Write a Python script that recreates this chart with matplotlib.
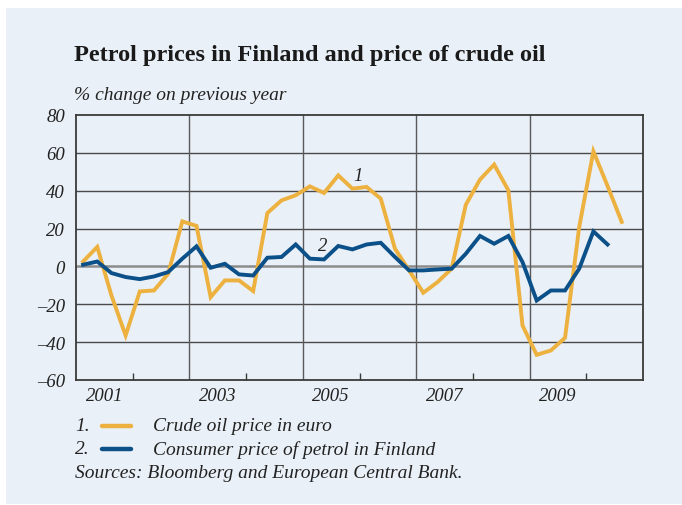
import matplotlib.pyplot as plt
import matplotlib.patches as patches
import numpy as np

# Quarterly data, % change on previous year
start_year = 2001.125
crude_oil = [2.6, 10.3, -15.3, -36.5, -13.2, -12.7, -3.9, 23.8, 21.4, -16.2,
             -7.4, -7.4, -13.0, 28.2, 34.9, 37.6, 42.3, 38.8, 48.1, 41.1,
             42.0, 35.8, 9.4, -2.1, -13.9, -8.3, -1.2, 32.6, 45.9, 53.8,
             40.2, -31.2, -46.7, -44.4, -37.7, 20.8, 60.8, 42.5, 23.5]
petrol = [0.9, 2.6, -3.5, -5.6, -6.7, -5.3, -3.0, 4.1, 10.6, -0.7,
          1.4, -4.2, -4.8, 4.6, 5.0, 11.6, 4.1, 3.7, 10.8, 9.0,
          11.6, 12.5, 5.0, -2.1, -2.1, -1.6, -1.2, 6.7, 16.1, 12.0,
          16.1, 2.3, -18.0, -12.7, -12.7, -1.2, 18.5, 11.6]
year_labels = ["2001", "2003", "2005", "2007", "2009"]
y_ticks = [-60, -40, -20, 0, 20, 40, 60, 80]

t_oil = start_year + 0.25 * np.arange(len(crude_oil))
t_pet = start_year + 0.25 * np.arange(len(petrol))

yellow = "#EDB13F"
blue = "#0B5088"
bg = "#EAF0F7"
grid_c = "#4A4A4A"
serif = ["Liberation Serif", "DejaVu Serif"]
fs = 13.5
fs_note = 14

fig = plt.figure(figsize=(6.82, 5.06), dpi=100)
fig.patch.set_facecolor("white")
fig.patches.append(patches.Rectangle((6 / 682, 1 - 505 / 506), 1, 496 / 506,
                                     transform=fig.transFigure, facecolor=bg,
                                     edgecolor="none", zorder=-10))

ax = fig.add_axes([76 / 682, 1 - 381 / 506, 567 / 682, 265 / 506])
ax.set_facecolor(bg)
ax.set_xlim(2001, 2011)
ax.set_ylim(-60, 80)

# grid
for v in [60, 40, 20, -20, -40]:
    ax.axhline(v, color=grid_c, lw=1.0, zorder=1)
ax.axhline(0, color="#8C8C8C", lw=1.8, zorder=1)
for yr in [2003, 2005, 2007, 2009]:
    ax.axvline(yr, color="#5A5A5A", lw=1.0, zorder=1)

ax.plot(t_oil, crude_oil, color=yellow, lw=2.8, zorder=3, solid_joinstyle="miter")
ax.plot(t_pet, petrol, color=blue, lw=2.8, zorder=4, solid_joinstyle="miter")

ax.text(2005.98, 48, "1", fontsize=fs, style="italic", family=serif,
        color="#222222", ha="center", va="center")
ax.text(2005.35, 11, "2", fontsize=fs, style="italic", family=serif,
        color="#222222", ha="center", va="center")

for s in ax.spines.values():
    s.set_color("#3A3A3A")
    s.set_linewidth(1.3)

ax.set_yticks(y_ticks)
ax.set_yticklabels([str(v).replace("-", "\u2013") for v in y_ticks],
                   fontsize=fs, style="italic", family=serif, color="#222222")
ax.tick_params(axis="y", length=0, pad=8)

ax.set_xticks([2001.5, 2003.5, 2005.5, 2007.5, 2009.5])
ax.set_xticklabels(year_labels, fontsize=fs, style="italic", family=serif,
                   color="#222222")
ax.set_xticks([2002, 2004, 2006, 2008, 2010], minor=True)
ax.tick_params(axis="x", which="major", length=0, pad=5)
ax.tick_params(axis="x", which="minor", direction="in", length=5, width=1,
               color="#3A3A3A")

# titles
fig.text(74 / 682, 1 - 56 / 506, "Petrol prices in Finland and price of crude oil",
         fontsize=17.5, fontweight="bold", family=serif, color="#1A1A1A",
         va="center", ha="left")
fig.text(74 / 682, 1 - 95 / 506, "% change on previous year",
         fontsize=fs_note, style="italic", family=serif, color="#222222",
         va="center", ha="left")

# legend
leg_y = [427, 450]
leg_txt = ["Crude oil price in euro", "Consumer price of petrol in Finland"]
for i, (yy, txt, c) in enumerate(zip(leg_y, leg_txt, [yellow, blue])):
    yf = 1 - yy / 506
    fig.text(75 / 682, yf, f"{i + 1}.", fontsize=fs_note, style="italic",
             family=serif, color="#222222", va="center", ha="left")
    fig.lines.append(plt.Line2D([102 / 682, 131 / 682], [yf, yf], color=c,
                                lw=3.2, solid_capstyle="round",
                                transform=fig.transFigure))
    fig.text(153 / 682, yf, txt, fontsize=fs_note, style="italic",
             family=serif, color="#222222", va="center", ha="left")
fig.text(75 / 682, 1 - 474 / 506, "Sources: Bloomberg and European Central Bank.",
         fontsize=fs_note, style="italic", family=serif, color="#222222",
         va="center", ha="left")

fig.savefig("out.png", dpi=100, facecolor=fig.get_facecolor())
